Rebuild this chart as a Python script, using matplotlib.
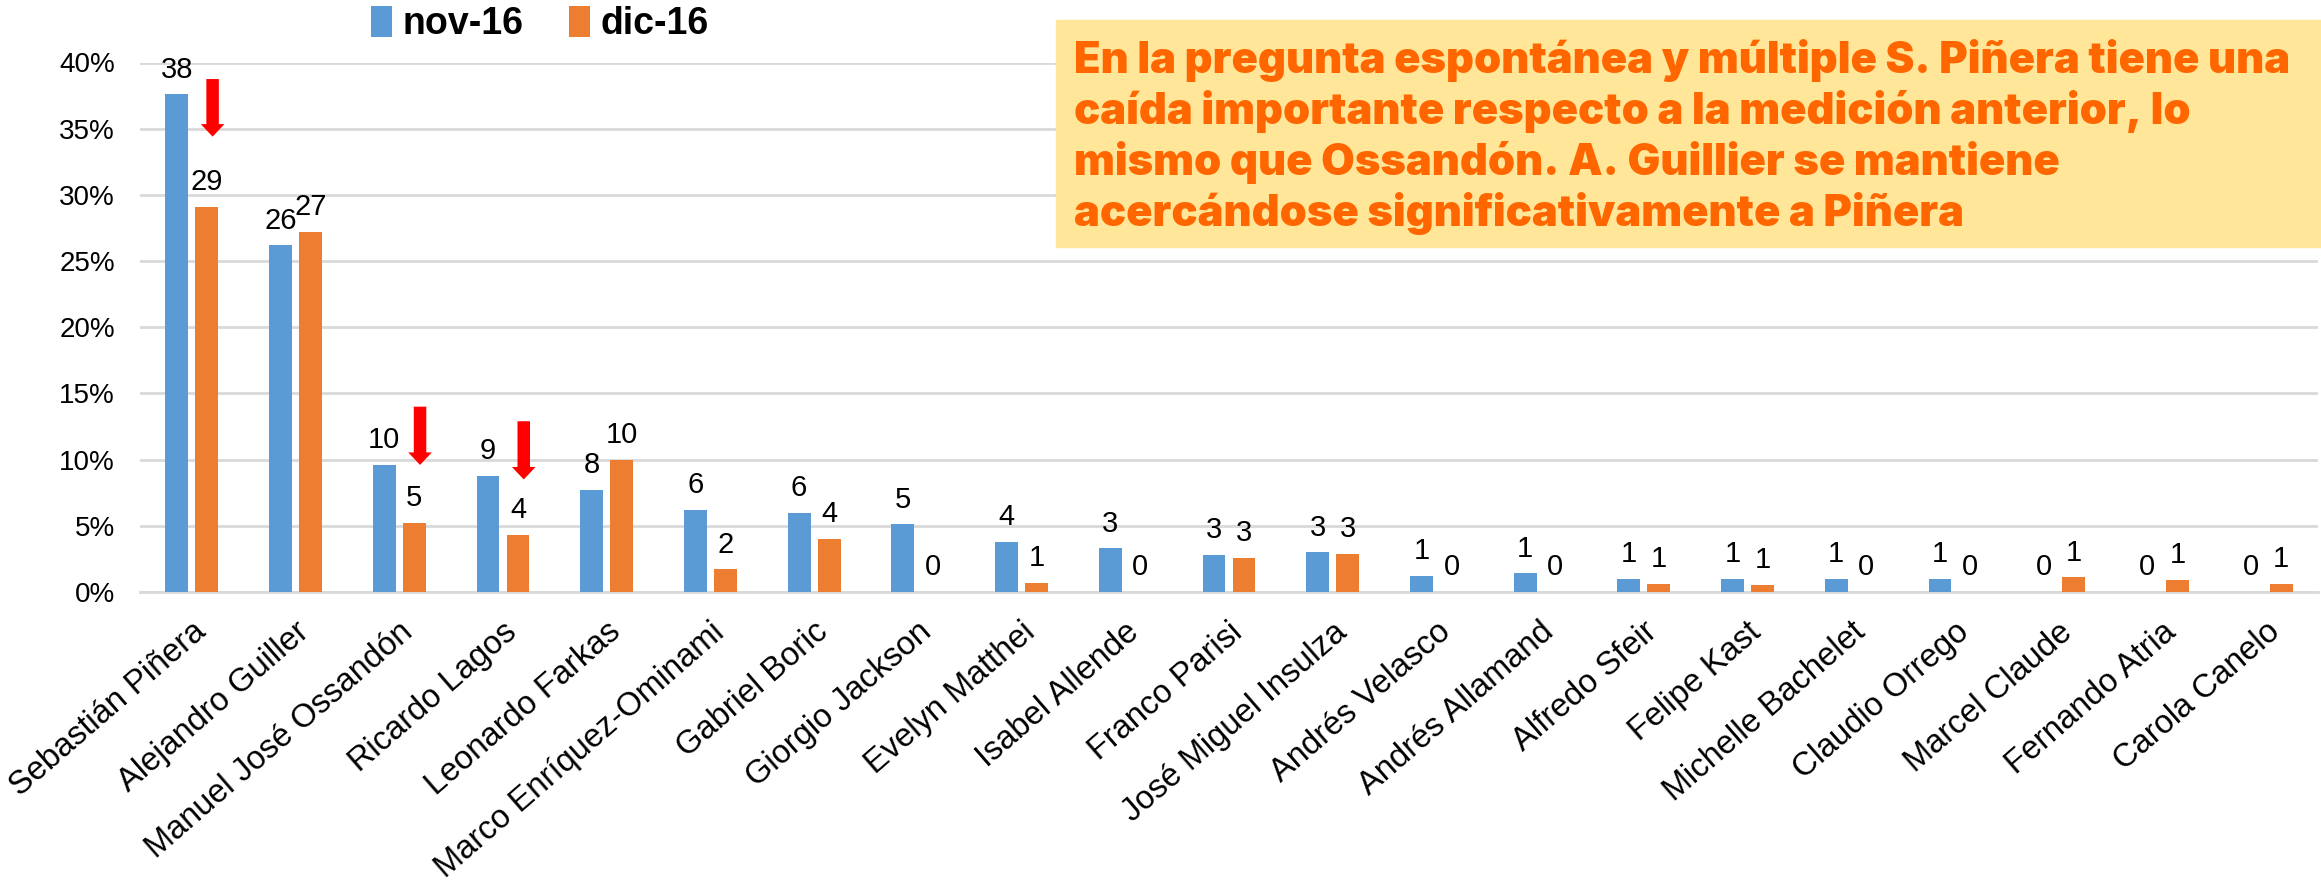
"""
Intención de voto espontánea y múltiple: nov-16 vs dic-16
"""
import matplotlib
matplotlib.use("Agg")
import matplotlib.pyplot as plt
import matplotlib.transforms as mtransforms
import numpy as np
from matplotlib.patches import Rectangle

candidates = [
    "Sebastián Piñera", "Alejandro Guiller", "Manuel José Ossandón",
    "Ricardo Lagos", "Leonardo Farkas", "Marco Enríquez-Ominami",
    "Gabriel Boric", "Giorgio Jackson", "Evelyn Matthei", "Isabel Allende",
    "Franco Parisi", "José Miguel Insulza", "Andrés Velasco",
    "Andrés Allamand", "Alfredo Sfeir", "Felipe Kast", "Michelle Bachelet",
    "Claudio Orrego", "Marcel Claude", "Fernando Atria", "Carola Canelo",
]
nov_16 = [37.6, 26.2, 9.6, 8.8, 7.7, 6.2, 6.0, 5.1, 3.8, 3.3,
          2.8, 3.0, 1.2, 1.4, 1.0, 1.0, 1.0, 1.0, 0.0, 0.0, 0.0]
dic_16 = [29.1, 27.2, 5.2, 4.3, 10.0, 1.7, 4.0, 0.0, 0.7, 0.0,
          2.6, 2.9, 0.0, 0.0, 0.6, 0.52, 0.0, 0.0, 1.1, 0.9, 0.6]

# candidates marked with a red "drop" arrow: (index, from %, to %)
drops = [(0, 38.75, 34.4), (2, 14.0, 9.6), (3, 12.9, 8.5)]

note_lines = [
    "En la pregunta espontánea y múltiple S. Piñera tiene una",
    "caída importante respecto a la medición anterior, lo",
    "mismo que Ossandón. A. Guillier se mantiene",
    "acercándose significativamente a Piñera",
]

BLUE = "#5B9BD5"
ORANGE = "#ED7D31"

plt.rcParams["font.family"] = ["Liberation Sans", "DejaVu Sans"]

W, H = 2321, 890
fig = plt.figure(figsize=(W / 100, H / 100), dpi=100)
ax = fig.add_axes([140 / W, 1 - 592 / H, 2178 / W, (592 - 62.5) / H])

x = np.arange(len(candidates))
bw = 0.22
off = 0.145
b1 = ax.bar(x - off, nov_16, bw, color=BLUE, label="nov-16", zorder=3)
b2 = ax.bar(x + off, dic_16, bw, color=ORANGE, label="dic-16", zorder=3)

for bars, vals in ((b1, nov_16), (b2, dic_16)):
    for rect, v in zip(bars, vals):
        ax.annotate(f"{v:.0f}", (rect.get_x() + rect.get_width() / 2, v),
                    xytext=(0, 12), textcoords="offset points",
                    ha="center", va="baseline", fontsize=21, zorder=5)

for i, y0, y1 in drops:
    ax.annotate("", xy=(i + 0.2, y1), xytext=(i + 0.2, y0),
                arrowprops=dict(width=9, headwidth=17, headlength=9,
                                color="red", lw=0), zorder=6)

ax.set_xlim(-0.5, len(candidates) - 0.5)
ax.set_ylim(0, 40)
ax.set_yticks(np.arange(0, 41, 5))
ax.set_yticklabels([f"{t}%" for t in range(0, 41, 5)])
ax.yaxis.grid(True, color="#D9D9D9", lw=2, zorder=0)
ax.set_xticks(x)
ax.set_xticklabels(candidates, rotation=41, ha="right",
                   rotation_mode="anchor", va="center")
ax.tick_params(axis="y", length=0, pad=18, labelsize=20)
ax.tick_params(axis="x", length=0, pad=26, labelsize=23.5)
shift = mtransforms.ScaledTranslation(7 / 72, 0, fig.dpi_scale_trans)
for lab in ax.get_xticklabels():
    lab.set_transform(lab.get_transform() + shift)
for s in ("top", "right", "left"):
    ax.spines[s].set_visible(False)
ax.spines["bottom"].set_color("#D9D9D9")
ax.spines["bottom"].set_linewidth(2)

fig.legend(handles=[b1, b2], loc="center", bbox_to_anchor=(540 / W, 1 - 24 / H),
           ncol=2, frameon=False, prop=dict(weight="bold", size=27),
           handlelength=0.55, handleheight=0.9, handletextpad=0.3,
           columnspacing=1.2)

# yellow commentary box
fig.patches.append(Rectangle((1056 / W, 1 - 247 / H), (W - 1056) / W, 227 / H,
                             transform=fig.transFigure, color="#FFE699",
                             zorder=10))
for k, line in enumerate(note_lines):
    fig.text(1074 / W, 1 - (73 + 51 * k) / H, line, family="Inter",
             weight="black", size=31.3, color="#FF6600", va="baseline",
             zorder=11)

fig.savefig("out.png", dpi=100)
